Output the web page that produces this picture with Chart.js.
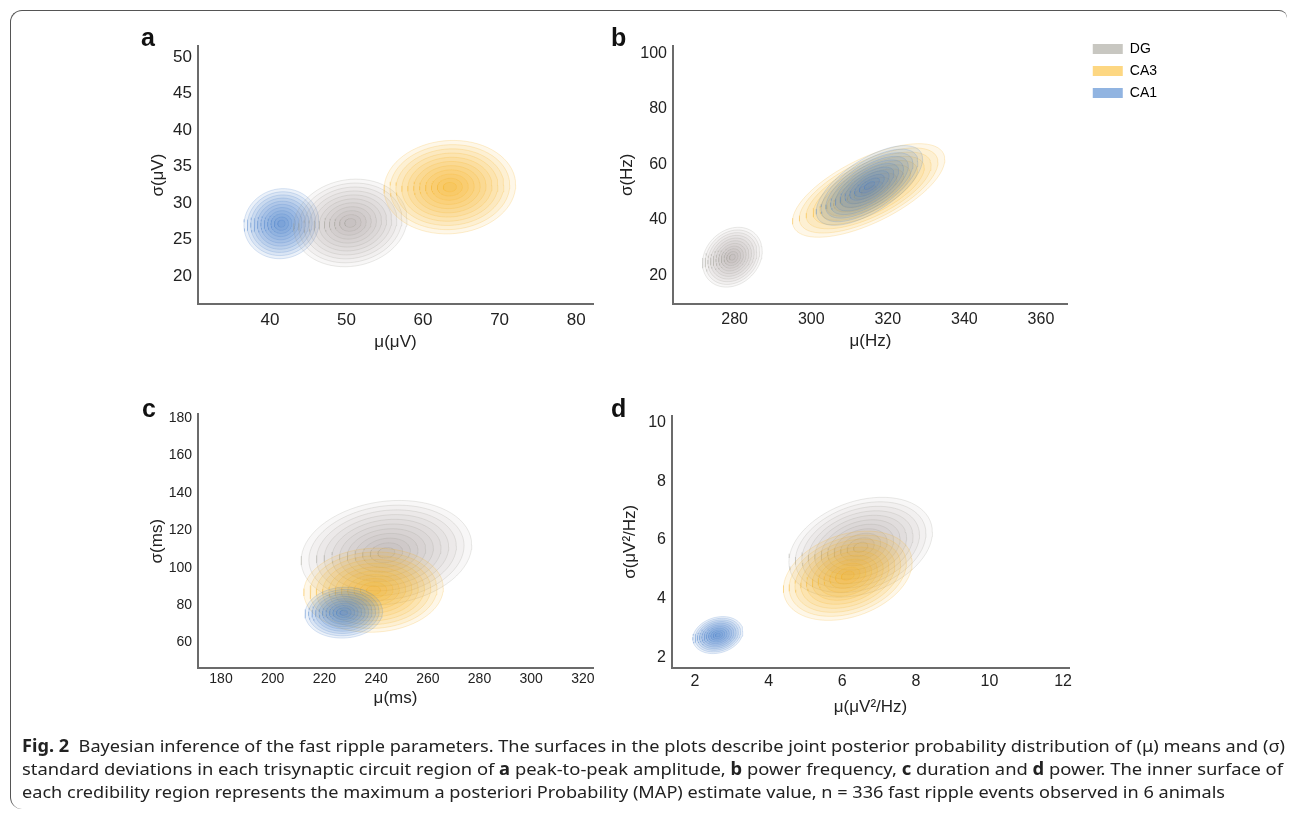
<!DOCTYPE html>
<html>
<head>
<meta charset="utf-8">
<script src="https://cdn.jsdelivr.net/npm/chart.js@4.4.0/dist/chart.umd.min.js"></script>
<style>
  body { margin: 0; background: #fff; width: 1293px; height: 816px; position: relative; overflow: hidden;
         font-family: "Liberation Sans", Arial, sans-serif; }
  .frame { position: absolute; left: 10px; top: 10px; width: 1276px; height: 798px;
           border-top: 1.5px solid #555; border-left: 1.5px solid #555; border-radius: 12px 8px 0 12px; }
  canvas { position: absolute; }
  .letter { position: absolute; font-weight: bold; font-size: 25px; line-height: 25px; color: #111; }
  .caption { position: absolute; left: 22px; top: 734px; color: #222; font-size: 17px; line-height: 23px;
             font-family: "Noto Sans", sans-serif; }
  .caption span { display: inline-block; white-space: nowrap; transform-origin: 0 0; }
</style>
</head>
<body>
<div class="frame"></div>

<canvas id="amp" width="480" height="350" style="left:125px;top:30px"></canvas>
<canvas id="freq" width="600" height="350" style="left:600px;top:30px"></canvas>
<canvas id="dur" width="480" height="340" style="left:125px;top:400px"></canvas>
<canvas id="pow" width="480" height="345" style="left:600px;top:400px"></canvas>

<div class="letter" style="left:141px;top:25px">a</div>
<div class="letter" style="left:611px;top:25px">b</div>
<div class="letter" style="left:142px;top:396px">c</div>
<div class="letter" style="left:611px;top:396px">d</div>

<div class="caption">
  <span data-w="1263"><b>Fig. 2</b>&nbsp; Bayesian inference of the fast ripple parameters. The surfaces in the plots describe joint posterior probability distribution of (μ) means and (σ)</span><br>
  <span data-w="1261">standard deviations in each trisynaptic circuit region of <b>a</b> peak-to-peak amplitude, <b>b</b> power frequency, <b>c</b> duration and <b>d</b> power. The inner surface of</span><br>
  <span data-w="1203">each credibility region represents the maximum a posteriori Probability (MAP) estimate value, n = 336 fast ripple events observed in 6 animals</span>
</div>

<script>
const regions = ['DG', 'CA3', 'CA1'];

// a: peak-to-peak amplitude (µV) -- posterior centre, half extent and tilt per region
const ampMu = [50.5, 63.5, 41.5];
const ampSigma = [27.3, 32.2, 27.2];
const ampMuSpread = [7.4, 8.6, 4.9];
const ampSigmaSpread = [6.0, 6.4, 4.8];
const ampCorr = [0.1, 0.05, 0.05];
const ampTicksX = [40, 50, 60, 70, 80];
const ampTicksY = [20, 25, 30, 35, 40, 45, 50];

// b: power frequency (Hz)
const freqMu = [279.4, 315.0, 315.2];
const freqSigma = [26.5, 50.6, 52.4];
const freqMuSpread = [7.8, 19.9, 13.9];
const freqSigmaSpread = [10.8, 16.9, 14.4];
const freqCorr = [0.2, 0.66, 0.66];
const freqTicksX = [280, 300, 320, 340, 360];
const freqTicksY = [20, 40, 60, 80, 100];

// c: duration (ms)
const durMu = [244, 239, 227.5];
const durSigma = [108, 88, 76];
const durMuSpread = [33, 27, 15];
const durSigmaSpread = [28, 22.5, 13.6];
const durCorr = [0.15, 0.05, 0.05];
const durTicksX = [180, 200, 220, 240, 260, 280, 300, 320];
const durTicksY = [60, 80, 100, 120, 140, 160, 180];

// d: power (µV²/Hz)
const powMu = [6.5, 6.15, 2.62];
const powSigma = [5.75, 4.78, 2.76];
const powMuSpread = [1.95, 1.75, 0.68];
const powSigmaSpread = [1.7, 1.52, 0.63];
const powCorr = [0.3, 0.3, 0.2];
const powTicksX = [2, 4, 6, 8, 10, 12];
const powTicksY = [2, 4, 6, 8, 10];

// nested credibility contours, outer to inner
const contourLevels = [1, 0.91, 0.82, 0.73, 0.64, 0.55, 0.46, 0.37, 0.28, 0.19, 0.1];

const baseColor = { DG: [150, 148, 140], CA3: [245, 175, 30], CA1: [70, 125, 200] };
const fillAlpha = { DG: 0.07, CA3: 0.1, CA1: 0.11 };
const legendColor = { DG: 'rgb(200,199,193)', CA3: 'rgb(253,215,130)', CA1: 'rgb(145,180,225)' };
const family = "'Liberation Sans', Arial, sans-serif";

function rgba(c, a) { return `rgba(${c[0]},${c[1]},${c[2]},${a})`; }

function outline(cx, cy, sx, sy, rho, k) {
  const pts = [];
  const r = Math.sqrt(1 - rho * rho);
  for (let i = 0; i <= 72; i++) {
    const t = i / 72 * 2 * Math.PI;
    pts.push({ x: cx + k * sx * Math.cos(t), y: cy + k * sy * (rho * Math.cos(t) + r * Math.sin(t)) });
  }
  return pts;
}

// nudges the legend box after layout so it sits where the figure has it
const legendShift = {
  id: 'legendShift',
  afterLayout(chart, args, opts) {
    const lg = chart.legend;
    if (!lg || (!opts.dx && !opts.dy)) return;
    lg.left += opts.dx; lg.right += opts.dx;
    lg.top += opts.dy; lg.bottom += opts.dy;
  }
};

function makePanel(id, p) {
  // build bottom-to-top, chart.js paints the first dataset last
  const datasets = [];
  p.drawOrder.forEach(i => {
    const name = regions[i];
    contourLevels.forEach(k => {
      datasets.push({
        label: name,
        data: outline(p.mu[i], p.sigma[i], p.muSpread[i], p.sigmaSpread[i], p.corr[i], k),
        showLine: true,
        fill: 'shape',
        backgroundColor: rgba(baseColor[name], fillAlpha[name]),
        borderColor: rgba(baseColor[name], 0.2),
        borderWidth: 1,
        pointRadius: 0
      });
    });
  });
  datasets.reverse();

  const tickFont = { family, size: p.font };
  const titleFont = { family, size: 17 };
  new Chart(document.getElementById(id), {
    type: 'scatter',
    data: { datasets },
    plugins: [legendShift],
    options: {
      responsive: false,
      animation: false,
      events: [],
      layout: { padding: p.padding },
      plugins: {
        tooltip: { enabled: false },
        legendShift: p.legendShift || {},
        legend: p.legend ? {
          display: true,
          position: 'right',
          align: 'start',
          labels: {
            boxWidth: 30, boxHeight: 10, padding: 8, color: '#222',
            font: { family, size: 14 },
            generateLabels: () => regions.map((r, i) => ({
              text: r, fillStyle: legendColor[r], strokeStyle: legendColor[r], lineWidth: 0, hidden: false, datasetIndex: i
            }))
          }
        } : { display: false }
      },
      scales: {
        x: {
          min: p.xRange[0], max: p.xRange[1],
          afterBuildTicks: s => { s.ticks = p.ticksX.map(v => ({ value: v })); },
          afterFit: s => { s.height = p.xHeight; },
          grid: { display: false, drawTicks: false },
          border: { display: true, color: '#6b6b6b', width: 2 },
          ticks: { color: '#222', font: tickFont, padding: p.xTickPad, maxRotation: 0, autoSkip: false },
          title: { display: true, text: p.xTitle, color: '#222', font: titleFont, padding: { top: 0, bottom: p.xTitlePad } }
        },
        y: {
          min: p.yRange[0], max: p.yRange[1],
          afterBuildTicks: s => { s.ticks = p.ticksY.map(v => ({ value: v })); },
          afterFit: s => { s.width = p.yWidth; },
          grid: { display: false, drawTicks: false },
          border: { display: true, color: '#6b6b6b', width: 2 },
          ticks: { color: '#222', font: tickFont, padding: p.yTickPad, autoSkip: false },
          title: { display: true, text: p.yTitle, color: '#222', font: titleFont, padding: { top: p.yTitlePad, bottom: 0 } }
        }
      }
    }
  });
}

makePanel('amp', {
  mu: ampMu, sigma: ampSigma, muSpread: ampMuSpread, sigmaSpread: ampSigmaSpread, corr: ampCorr,
  ticksX: ampTicksX, ticksY: ampTicksY, xRange: [30.6, 82.2], yRange: [16.2, 51.5],
  drawOrder: [2, 0, 1], xTitle: 'μ(μV)', yTitle: 'σ(μV)', font: 17,
  padding: { left: 0, top: 15, right: 12, bottom: 0 }, yWidth: 73, xHeight: 76,
  xTickPad: 6, yTickPad: 6, xTitlePad: 27, yTitlePad: 23
});

makePanel('freq', {
  mu: freqMu, sigma: freqSigma, muSpread: freqMuSpread, sigmaSpread: freqSigmaSpread, corr: freqCorr,
  ticksX: freqTicksX, ticksY: freqTicksY, xRange: [263.9, 367], yRange: [9.6, 102.9],
  drawOrder: [0, 1, 2], xTitle: 'μ(Hz)', yTitle: 'σ(Hz)', font: 16, legend: true,
  legendShift: { dx: 17, dy: -11 },
  padding: { left: 0, top: 15, right: 50, bottom: 0 }, yWidth: 73, xHeight: 76,
  xTickPad: 6, yTickPad: 6, xTitlePad: 28, yTitlePad: 17
});

makePanel('dur', {
  mu: durMu, sigma: durSigma, muSpread: durMuSpread, sigmaSpread: durSigmaSpread, corr: durCorr,
  ticksX: durTicksX, ticksY: durTicksY, xRange: [171.1, 323.9], yRange: [46.4, 182],
  drawOrder: [0, 1, 2], xTitle: 'μ(ms)', yTitle: 'σ(ms)', font: 14,
  padding: { left: 0, top: 8, right: 12, bottom: 0 }, yWidth: 73, xHeight: 72,
  xTickPad: 3, yTickPad: 6, xTitlePad: 31, yTitlePad: 22
});

makePanel('pow', {
  mu: powMu, sigma: powSigma, muSpread: powMuSpread, sigmaSpread: powSigmaSpread, corr: powCorr,
  ticksX: powTicksX, ticksY: powTicksY, xRange: [1.375, 12.16], yRange: [1.64, 10.23],
  drawOrder: [0, 1, 2], xTitle: 'μ(μV²/Hz)', yTitle: 'σ(μV²/Hz)', font: 16,
  padding: { left: 0, top: 8, right: 11, bottom: 0 }, yWidth: 72, xHeight: 77,
  xTickPad: 4, yTickPad: 6, xTitlePad: 27, yTitlePad: 20
});

// fit each caption line to the measured line length
document.querySelectorAll('.caption span').forEach(el => {
  const w = el.getBoundingClientRect().width;
  el.style.transform = `scaleX(${el.dataset.w / w})`;
});
</script>
</body>
</html>
